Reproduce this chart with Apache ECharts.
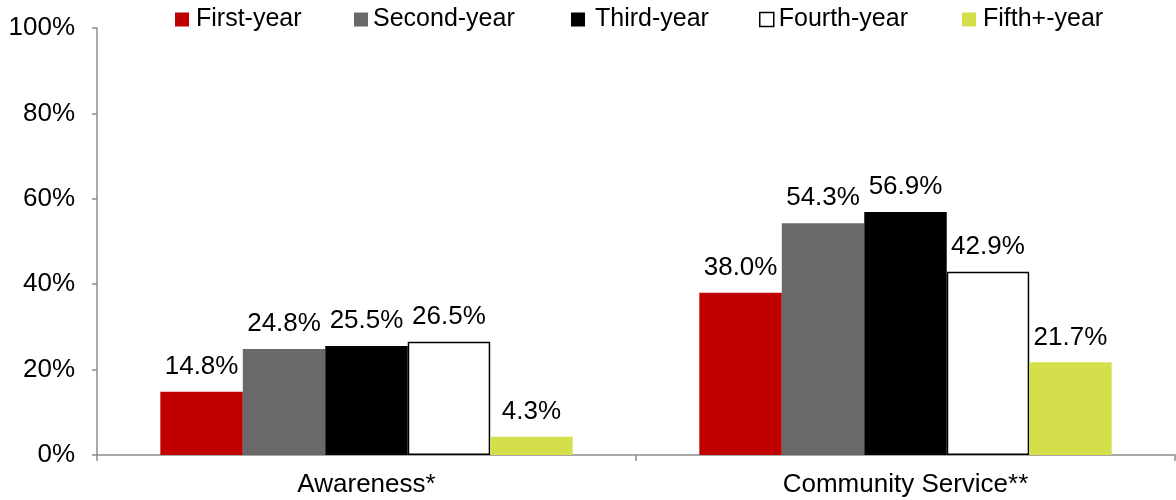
<!DOCTYPE html>
<html>
<head>
<meta charset="utf-8">
<script src="https://cdn.jsdelivr.net/npm/echarts@6/dist/echarts.min.js"></script>
<style>
  html, body { margin: 0; padding: 0; background: #fff; }
  #chart { width: 1176px; height: 500px; }
</style>
</head>
<body>
<div id="chart"></div>
<script>
// Share of students by class year, per activity (percent)
const categories = ['Awareness*', 'Community Service**'];
const seriesNames = ['First-year', 'Second-year', 'Third-year', 'Fourth-year', 'Fifth+-year'];
const firstYear = [14.8, 38.0];
const secondYear = [24.8, 54.3];
const thirdYear = [25.5, 56.9];
const fourthYear = [26.5, 42.9];
const fifthYear = [4.3, 21.7];
const yTicks = [0, 20, 40, 60, 80, 100];

const values = [firstYear, secondYear, thirdYear, fourthYear, fifthYear];
const fills = ['#C00000', '#696969', '#000000', '#FFFFFF', '#D5DF4B'];
const FONT = '"Liberation Sans", Arial, sans-serif';
const AXIS_GREY = '#8C8C8C';

// Legend entries sit in one row; each gets its own legend box so spacing can follow the layout.
const legendLeft = [175, 354, 571, 759, 962];
const legendTextPad = [2, 0, 5, 0, 2];

const series = seriesNames.map((name, i) => ({
  name,
  type: 'bar',
  data: values[i],
  barGap: '0%',
  barCategoryGap: '23.5%',
  itemStyle: {
    color: fills[i],
    borderColor: i === 3 ? '#000000' : fills[i],
    borderWidth: i === 3 ? 1.5 : 0
  },
  label: {
    show: true,
    position: 'top',
    distance: 12,
    color: '#000',
    fontFamily: FONT,
    fontSize: 26,
    formatter: p => p.value.toFixed(1) + '%'
  }
}));

const legends = seriesNames.map((name, i) => ({
  data: [{
    name,
    icon: 'rect',
    itemStyle: { color: fills[i], borderColor: i === 3 ? '#000' : fills[i], borderWidth: i === 3 ? 1.5 : 0 }
  }],
  left: legendLeft[i],
  top: 7,
  padding: 0,
  itemWidth: 14,
  itemHeight: 14,
  textStyle: { color: '#000', fontFamily: FONT, fontSize: 25, padding: [0, 0, 0, legendTextPad[i]] }
}));

const chart = echarts.init(document.getElementById('chart'), null, { renderer: 'canvas' });
chart.setOption({
  animation: false,
  backgroundColor: '#fff',
  grid: { left: 97, right: 1, top: 28, bottom: 45 },
  legend: legends,
  xAxis: {
    type: 'category',
    data: categories,
    axisLine: { lineStyle: { color: AXIS_GREY, width: 1.5 } },
    axisTick: { show: true, length: 6, lineStyle: { color: AXIS_GREY, width: 1.5 } },
    axisLabel: { color: '#000', fontFamily: FONT, fontSize: 26, margin: 17 }
  },
  yAxis: {
    type: 'value',
    min: yTicks[0],
    max: yTicks[yTicks.length - 1],
    interval: yTicks[1] - yTicks[0],
    splitLine: { show: false },
    axisLine: { show: true, lineStyle: { color: AXIS_GREY, width: 1.5 } },
    axisTick: { show: true, length: 5, lineStyle: { color: AXIS_GREY, width: 1.5 } },
    axisLabel: { color: '#000', fontFamily: FONT, fontSize: 26, margin: 22, formatter: v => v + '%' }
  },
  series
});
</script>
</body>
</html>
